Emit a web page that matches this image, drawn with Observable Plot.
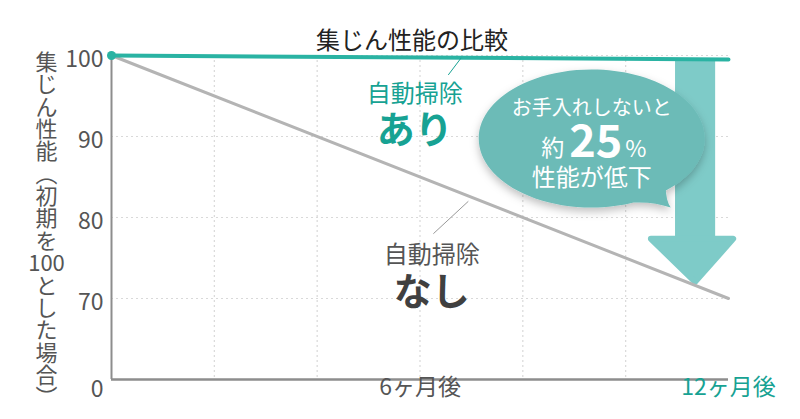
<!DOCTYPE html>
<html>
<head>
<meta charset="utf-8">
<script src="https://cdn.jsdelivr.net/npm/d3@7"></script>
<script src="https://cdn.jsdelivr.net/npm/@observablehq/plot@0.6"></script>
<style>
  html, body { margin: 0; padding: 0; background: #fff; }
  #chart svg { display: block; }
</style>
</head>
<body>
<div id="chart"></div>
<script>
// ---- data ----
const months = [0, 12];
const withCleaning = [100, 99.5];
const withoutCleaning = [100, 70];
const yTicks = [0, 70, 80, 90, 100];
const yGrid = [70, 80, 90, 100];
const xGrid = [2, 4, 6, 8, 10];
const xTickValues = [6, 12];
const xTickLabels = ["6ヶ月後", "12ヶ月後"];
const title = "集じん性能の比較";
const yTitle = ["集","じ","ん","性","能","︵","初","期","を","100","と","し","た","場","合","︶"];

// annotation anchors (data units)
const labelAri = {x: 5.9, y1: 95.2, y2: 90.7, top: "自動掃除", big: "あり"};
const labelNashi = {x: 6.23, y1: 75.3, y2: 70.7, top: "自動掃除", big: "なし"};
const leaderAri = [{x1: 6.55, y1: 97.6, x2: 6.8, y2: 99.7}];
const leaderNashi = [{x1: 6.26, y1: 78.0, x2: 6.94, y2: 82.0}];
const arrowShaft = [{x1: 10.97, x2: 11.75, y1: 77.3, y2: 99.5}];
const arrowHead = [
  {x: 10.5, y1: 77.3, y2: 77.3},
  {x: 11.36, y1: 77.3, y2: 72.0},
  {x: 12.1, y1: 77.3, y2: 77.3}
];
const bubble = [{x: 9.34, y: 89.75}];
const bubbleLines = ["お手入れしないと", "約", "25", "%", "性能が低下"];

const rows = (vals) => months.map((m, i) => ({m, v: vals[i]}));

// custom symbol: speech bubble (ellipse + tail)
const bubbleSymbol = {
  draw(ctx) {
    const rx = 113, ry = 69, k = 0.5523;
    ctx.moveTo(rx, 0);
    ctx.bezierCurveTo(rx, k * ry, k * rx, ry, 0, ry);
    ctx.bezierCurveTo(-k * rx, ry, -rx, k * ry, -rx, 0);
    ctx.bezierCurveTo(-rx, -k * ry, -k * rx, -ry, 0, -ry);
    ctx.bezierCurveTo(k * rx, -ry, rx, -k * ry, rx, 0);
    ctx.closePath();
    ctx.moveTo(74, 48);
    ctx.quadraticCurveTo(74, 62, 79, 69);
    ctx.quadraticCurveTo(62, 63, 42, 64);
    ctx.closePath();
  }
};

const FONT = "'Noto Sans CJK JP', 'Noto Sans', sans-serif";
const TEAL = "#2ab3a3";
const TEAL_TEXT = "#17a293";

const chart = Plot.plot({
  width: 800,
  height: 419,
  marginLeft: 111,
  marginRight: 72,
  marginTop: 55,
  marginBottom: 40,
  style: {fontFamily: FONT, background: "#fff"},
  x: {domain: [0, 12], axis: null},
  y: {type: "linear", domain: yTicks, range: [379, 298, 217, 136, 55], axis: null},
  marks: [
    // grid
    Plot.ruleY(yGrid, {stroke: "#d9d9d9", strokeWidth: 1.2, strokeDasharray: "2,3"}),
    Plot.ruleX(xGrid, {stroke: "#d9d9d9", strokeWidth: 1.2, strokeDasharray: "2,3"}),
    // axes
    Plot.ruleY([0], {stroke: "#8d8d8d", strokeWidth: 2.6}),
    Plot.ruleX([0], {stroke: "#8d8d8d", strokeWidth: 2}),
    // y tick labels
    Plot.text(yTicks.filter(d => d > 0), {y: d => d, text: d => String(d), frameAnchor: "left", textAnchor: "end", dx: -8, dy: 4, fontSize: 23, fill: "#555"}),
    Plot.text([0], {y: d => d, text: d => String(d), frameAnchor: "left", textAnchor: "end", dx: -8, dy: 10, fontSize: 23, fill: "#555"}),
    // x tick labels
    Plot.text([0], {x: () => xTickValues[0], text: () => xTickLabels[0], frameAnchor: "bottom", dy: 15, fontSize: 23, fill: "#555"}),
    Plot.text([1], {x: () => xTickValues[1], text: () => xTickLabels[1], frameAnchor: "bottom", dy: 15, fontSize: 23, fill: TEAL_TEXT}),
    // title
    Plot.text([title], {text: d => d, frameAnchor: "top", dx: -8, dy: -24, fontSize: 24, fill: "#222"}),
    // y axis title (vertical)
    Plot.text([yTitle.join("\n")], {text: d => d, frameAnchor: "left", textAnchor: "middle", dx: -65, dy: 13, fontSize: 22, lineHeight: 1.016, fill: "#555"}),
    // arrow
    Plot.rect(arrowShaft, {x1: "x1", x2: "x2", y1: "y1", y2: "y2", fill: "#7ecbc8"}),
    Plot.areaY(arrowHead, {x: "x", y1: "y1", y2: "y2", fill: "#7ecbc8", stroke: "#7ecbc8", strokeWidth: 6, strokeLinejoin: "round"}),
    // lines
    Plot.line(rows(withoutCleaning), {x: "m", y: "v", stroke: "#b4b4b4", strokeWidth: 3}),
    Plot.line(rows(withCleaning), {x: "m", y: "v", stroke: TEAL, strokeWidth: 4}),
    Plot.dot([rows(withCleaning)[0]], {x: "m", y: "v", r: 4.5, fill: TEAL}),
    // leaders
    Plot.link(leaderAri, {x1: "x1", y1: "y1", x2: "x2", y2: "y2", stroke: TEAL_TEXT, strokeWidth: 1}),
    Plot.link(leaderNashi, {x1: "x1", y1: "y1", x2: "x2", y2: "y2", stroke: "#999", strokeWidth: 1}),
    // series labels
    Plot.text([labelAri], {x: "x", y: "y1", text: "top", fontSize: 24, fill: TEAL_TEXT}),
    Plot.text([labelAri], {x: "x", y: "y2", text: "big", fontSize: 38, fontWeight: "bold", fill: TEAL_TEXT}),
    Plot.text([labelNashi], {x: "x", y: "y1", text: "top", fontSize: 24, fill: "#555"}),
    Plot.text([labelNashi], {x: "x", y: "y2", text: "big", fontSize: 38, fontWeight: "bold", fill: "#404040"}),
    // bubble
    Plot.dot(bubble, {x: "x", y: "y", r: 10, symbol: bubbleSymbol, fill: "#6cbbb7", stroke: null}),
    Plot.text(bubble, {x: "x", y: "y", text: () => bubbleLines[0], dy: -30, fontSize: 20, fill: "#fff"}),
    Plot.text(bubble, {x: "x", y: "y", text: () => bubbleLines[1], dx: -39, dy: 10, fontSize: 23, fill: "#fff"}),
    Plot.text(bubble, {x: "x", y: "y", text: () => bubbleLines[2], dx: 4, dy: 4, fontSize: 45, fontWeight: "bold", fill: "#fff"}),
    Plot.text(bubble, {x: "x", y: "y", text: () => bubbleLines[3], dx: 44, dy: 11, fontSize: 23, fill: "#fff"}),
    Plot.text(bubble, {x: "x", y: "y", text: () => bubbleLines[4], dy: 40, fontSize: 24, fill: "#fff"})
  ]
});

// soft shadow under the bubble
const ns = "http://www.w3.org/2000/svg";
const defs = document.createElementNS(ns, "defs");
defs.innerHTML = '<filter id="bshadow" x="-20%" y="-20%" width="140%" height="150%"><feDropShadow dx="0" dy="4" stdDeviation="4" flood-color="#000" flood-opacity="0.25"/></filter>';
chart.insertBefore(defs, chart.firstChild);
const bg = chart.querySelector('g[fill="#6cbbb7"]');
if (bg) bg.setAttribute("filter", "url(#bshadow)");

document.getElementById("chart").appendChild(chart);
</script>
</body>
</html>
